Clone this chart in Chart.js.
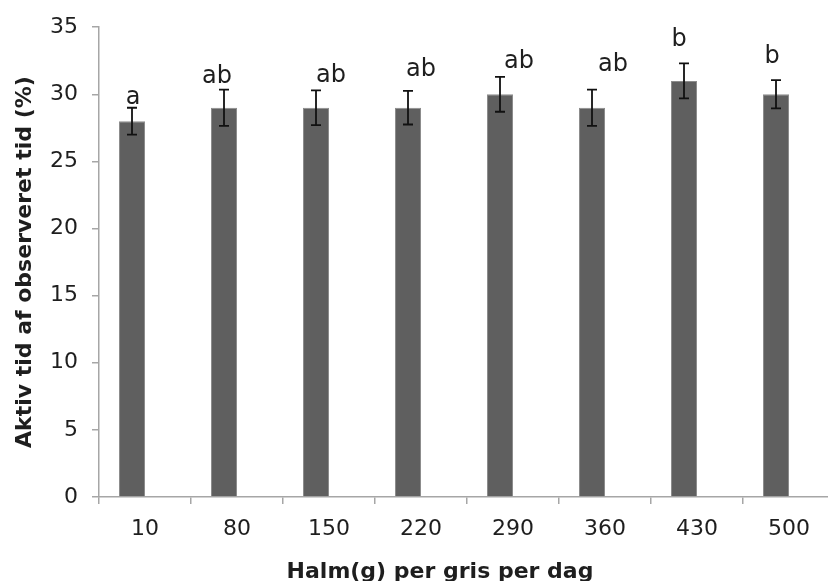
<!DOCTYPE html>
<html>
<head>
<meta charset="utf-8">
<script src="https://cdn.jsdelivr.net/npm/chart.js@4.4.1/dist/chart.umd.min.js"></script>
<style>
  html, body { margin: 0; padding: 0; background: #fff; overflow: hidden; }
  #wrap { width: 836px; height: 581px; position: relative; }
</style>
</head>
<body>
<div id="wrap"><canvas id="c"></canvas></div>
<script>
// Straw allowance (g per pig per day) and share of observed time spent active
const strawGrams = ['10', '80', '150', '220', '290', '360', '430', '500'];
const activePct  = [28, 29, 29, 29, 30, 29, 31, 30];
const activeErr  = [1.0, 1.35, 1.3, 1.25, 1.3, 1.35, 1.3, 1.05];
const groupLetters = ['a', 'ab', 'ab', 'ab', 'ab', 'ab', 'b', 'b'];
const yTicks = [0, 5, 10, 15, 20, 25, 30, 35];

const FONT = '"DejaVu Sans", Verdana, sans-serif';
const AXIS_GREY = '#a6a6a6';
const TEXT = '#1e1e1e';

// Error bars drawn from the value and error arrays
const errorBars = {
  id: 'errorBars',
  afterDatasetsDraw(chart) {
    const { ctx } = chart;
    const meta = chart.getDatasetMeta(0);
    const y = chart.scales.y;
    ctx.save();
    ctx.strokeStyle = '#111';
    ctx.lineWidth = 1.8;
    meta.data.forEach((bar, i) => {
      const v = activePct[i], e = activeErr[i];
      const top = y.getPixelForValue(v + e);
      const bot = y.getPixelForValue(v - e);
      const cx = bar.x, half = 5;
      ctx.beginPath();
      ctx.moveTo(cx, top); ctx.lineTo(cx, bot);
      ctx.moveTo(cx - half, top); ctx.lineTo(cx + half, top);
      ctx.moveTo(cx - half, bot); ctx.lineTo(cx + half, bot);
      ctx.stroke();
    });
    ctx.restore();
  }
};

// Significance letters above each error bar
const letterLabels = {
  id: 'letterLabels',
  afterDatasetsDraw(chart, args, opts) {
    const { ctx } = chart;
    const meta = chart.getDatasetMeta(0);
    const y = chart.scales.y;
    ctx.save();
    ctx.fillStyle = TEXT;
    ctx.font = '24px ' + FONT;
    ctx.textAlign = 'center';
    ctx.textBaseline = 'alphabetic';
    meta.data.forEach((bar, i) => {
      const top = y.getPixelForValue(activePct[i] + activeErr[i]);
      ctx.fillText(groupLetters[i], bar.x + opts.dx[i], top - opts.gap[i]);
    });
    ctx.restore();
  }
};

// Axis titles
const axisTitles = {
  id: 'axisTitles',
  afterDraw(chart) {
    const { ctx, chartArea } = chart;
    ctx.save();
    ctx.fillStyle = TEXT;
    ctx.font = 'bold 22px ' + FONT;
    ctx.textAlign = 'center';
    ctx.textBaseline = 'alphabetic';
    ctx.fillText('Halm(g) per gris per dag', 440, 578);
    ctx.translate(25, (chartArea.top + chartArea.bottom) / 2);
    ctx.rotate(-Math.PI / 2);
    ctx.textBaseline = 'middle';
    ctx.fillText('Aktiv tid af observeret tid (%)', 0, 0);
    ctx.restore();
  }
};

new Chart(document.getElementById('c'), {
  type: 'bar',
  data: {
    labels: strawGrams,
    datasets: [
      {
        label: 'Aktiv tid',
        data: activePct,
        backgroundColor: '#5f5f5f',
        borderColor: '#8c8c8c',
        borderWidth: 1,
        categoryPercentage: 0.565,
        barPercentage: 1.0
      },
      {
        // empty companion series keeps each bar in the left part of its slot
        label: '',
        data: strawGrams.map(() => null),
        backgroundColor: 'rgba(0,0,0,0)',
        categoryPercentage: 0.565,
        barPercentage: 1.0
      }
    ]
  },
  options: {
    responsive: true,
    maintainAspectRatio: false,
    animation: false,
    layout: { padding: { top: 25, right: 1, left: 0, bottom: 0 } },
    plugins: {
      legend: { display: false },
      tooltip: { enabled: false },
      letterLabels: {
        dx:  [1, -7, 15, 13, 19, 21, -5, -4],
        gap: [4, 7, 8, 15, 9, 19, 17, 17]
      }
    },
    scales: {
      x: {
        afterFit(s) { s.height = 84; },
        border: { display: true, color: AXIS_GREY, width: 1.5 },
        grid: {
          display: true, drawOnChartArea: false, drawTicks: true,
          tickLength: 7, color: AXIS_GREY, lineWidth: 1.5, offset: true
        },
        ticks: { color: TEXT, font: { family: FONT, size: 22 }, padding: 12 }
      },
      y: {
        min: 0, max: 35,
        afterFit(s) { s.width = 99; },
        afterBuildTicks(s) { s.ticks = yTicks.map(v => ({ value: v })); },
        border: { display: true, color: AXIS_GREY, width: 1.5 },
        grid: {
          display: true, drawOnChartArea: false, drawTicks: true,
          tickLength: 7, color: AXIS_GREY, lineWidth: 1.5
        },
        ticks: { color: TEXT, font: { family: FONT, size: 22 }, padding: 14 }
      }
    }
  },
  plugins: [errorBars, letterLabels, axisTitles]
});
</script>
</body>
</html>
